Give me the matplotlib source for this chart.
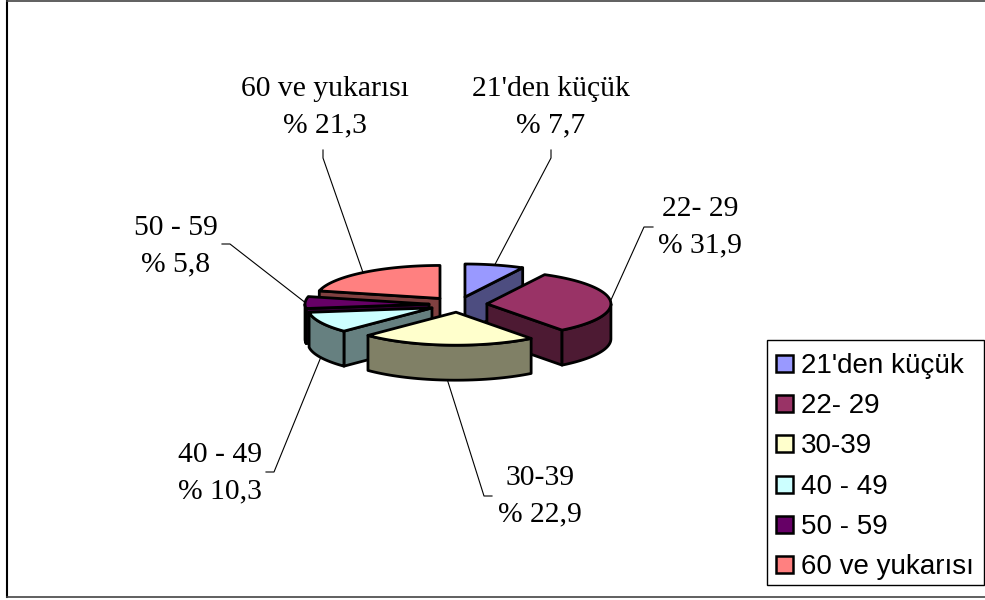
import numpy as np
import matplotlib
matplotlib.use("Agg")
from matplotlib import pyplot as plt
from matplotlib.patches import Polygon, Rectangle

# Yaş gruplarına göre dağılım (%)
categories = ["21'den küçük", "22- 29", "30-39", "40 - 49", "50 - 59", "60 ve yukarısı"]
values = [7.7, 31.9, 22.9, 10.3, 5.8, 21.3]
value_labels = ["7,7", "31,9", "22,9", "10,3", "5,8", "21,3"]
top_colors = ["#9999FF", "#993366", "#FFFFCC", "#CCFFFF", "#660066", "#FF8080"]
side_colors = ["#4D4D80", "#4D1A33", "#808066", "#668080", "#330033", "#804040"]

# Etiket konumları (piksel) ve kılavuz çizgilerinin dirsek noktaları
label_pos = [(551, 107), (700, 227), (540, 496), (220, 473), (176, 246), (325, 107)]
leader_start = [[(551, 150), (551, 158)], [(653, 227), (644, 227)], [(492, 496), (484, 496)],
                [(266, 472), (274, 472)], [(222, 244), (230, 244)], [(323, 150), (323, 158)]]

# Pasta geometrisi
CX, CY = 458, 304.5
RX, RY = 124, 33
DEPTH = 35
EXPLODE = 29
EDGE = 2.0

fig = plt.figure(figsize=(9.85, 6.0), dpi=100)
ax = fig.add_axes([0, 0, 1, 1])
ax.set_xlim(0, 985)
ax.set_ylim(600, 0)
ax.axis("off")


def rim(apex, deg):
    a = np.radians(deg)
    return apex[0] + RX * np.sin(a), apex[1] - RY * np.cos(a)


def face(points, color, z):
    ax.add_patch(Polygon(points, closed=True, facecolor=color, edgecolor="black",
                         linewidth=EDGE, joinstyle="round", zorder=z))


# Dilim açıları saat yönünde, saat 12'den başlar
shares = np.array(values) / sum(values) * 360
ends = np.cumsum(shares)
starts = ends - shares
mids = (starts + ends) / 2
apexes = [(CX + EXPLODE * np.sin(np.radians(m)), CY - EXPLODE * RY / RX * np.cos(np.radians(m)))
          for m in mids]

# Arkadan öne doğru çizim sırası
draw_order = [5, 0, 4, 3, 1, 2]
for z, i in enumerate(draw_order):
    a, b, apex = starts[i], ends[i], apexes[i]
    col = side_colors[i]

    # Kesit yüzleri
    if np.sin(np.radians(a)) < -0.01:
        p = rim(apex, a)
        face([apex, p, (p[0], p[1] + DEPTH), (apex[0], apex[1] + DEPTH)], col, z * 10 + 1)
    if np.sin(np.radians(b)) > 0.01:
        p = rim(apex, b)
        face([apex, p, (p[0], p[1] + DEPTH), (apex[0], apex[1] + DEPTH)], col, z * 10 + 1)

    # Dış duvar (sadece önde kalan kısım)
    w0, w1 = max(a, 90), min(b, 270)
    if w1 > w0:
        arc = [rim(apex, t) for t in np.linspace(w0, w1, 40)]
        low = [(x, y + DEPTH) for x, y in reversed(arc)]
        face(arc + low, col, z * 10 + 2)

    # Üst yüz
    top = [apex] + [rim(apex, t) for t in np.linspace(a, b, 60)]
    face(top, top_colors[i], z * 10 + 3)

# Etiketler ve kılavuz çizgileri
for i, cat in enumerate(categories):
    ax.text(label_pos[i][0], label_pos[i][1], f"{cat}\n% {value_labels[i]}", ha="center", va="center",
            family="Liberation Serif", fontsize=21.3, linespacing=1.5, color="black", zorder=100)
    px, py = rim(apexes[i], mids[i])
    if np.cos(np.radians(mids[i])) < -0.3:
        py += DEPTH
    xs = [p[0] for p in leader_start[i]] + [px]
    ys = [p[1] for p in leader_start[i]] + [py]
    ax.plot(xs, ys, color="black", linewidth=0.8, zorder=90)

# Lejant
ax.add_patch(Rectangle((767, 340), 217, 245, facecolor="white", edgecolor="black", linewidth=1.0, zorder=110))
for i, cat in enumerate(categories):
    y = 363 + i * 40.2
    ax.add_patch(Rectangle((776, y - 8), 17, 17, facecolor=top_colors[i], edgecolor="black",
                           linewidth=1.8, zorder=111))
    ax.text(801, y, cat, ha="left", va="center_baseline", family="Liberation Sans", fontsize=20,
            color="black", zorder=111)

# Dış çerçeve
ax.plot([7, 7], [0, 597], color="black", linewidth=1.5, zorder=120)
ax.plot([7, 985], [0.8, 0.8], color="#444444", linewidth=1.2, zorder=120)
ax.plot([7, 985], [597, 597], color="#444444", linewidth=1.2, zorder=120)

fig.savefig("out.png", dpi=100, facecolor="white")
